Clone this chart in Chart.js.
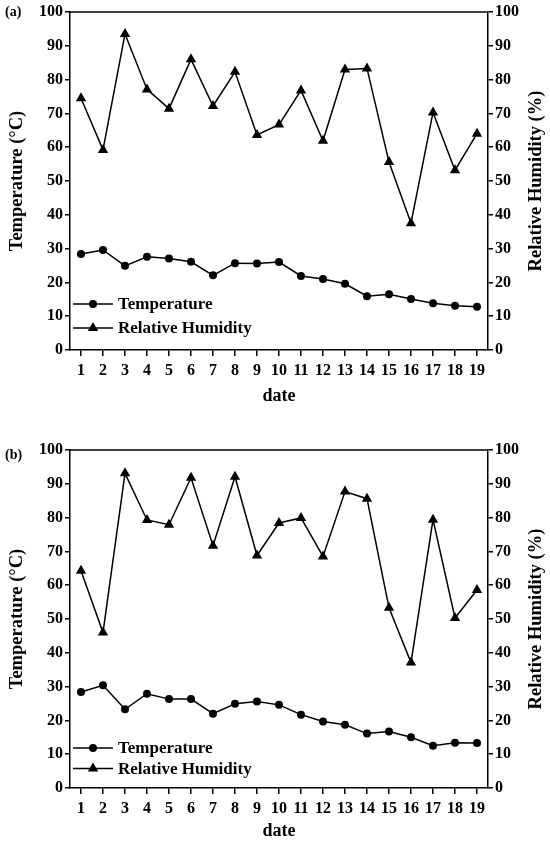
<!DOCTYPE html>
<html><head><meta charset="utf-8">
<script src="https://cdn.jsdelivr.net/npm/chart.js@4.4.1/dist/chart.umd.min.js"></script>
<style>html,body{margin:0;padding:0;background:#fff;}canvas{display:block;}</style>
</head><body>
<canvas id="ca" width="550" height="420"></canvas>
<canvas id="cb" width="550" height="421"></canvas>
<script>
const dates = ['1','2','3','4','5','6','7','8','9','10','11','12','13','14','15','16','17','18','19'];
const tempA = [28.4,29.6,24.9,27.6,27.1,26.1,22.1,25.7,25.6,26.0,21.9,21.0,19.6,15.9,16.5,15.1,13.8,13.1,12.8];
const humidA = [74.5,59.2,93.5,77.1,71.4,86.0,72.2,82.3,63.6,66.7,76.8,61.9,83.0,83.3,55.6,37.5,70.3,53.2,64.0];
const tempB = [28.4,30.4,23.3,27.9,26.3,26.3,22.0,24.9,25.6,24.6,21.7,19.7,18.7,16.1,16.7,15.0,12.5,13.4,13.3];
const humidB = [64.3,46.0,93.1,79.3,77.9,91.8,71.7,92.1,68.8,78.4,79.9,68.5,87.7,85.6,53.3,37.1,79.4,50.3,58.6];
const seriesNames = ['Temperature','Relative Humidity'];
const panelNames = ['(a)','(b)'];
const xTitle = 'date';
const leftTitle = 'Temperature (\u00B0C)';
const rightTitle = 'Relative Humidity (%)';

const FONT = "'Liberation Serif','Times New Roman',serif";

function drawMarker(ctx, style, x, y, r) {
  ctx.beginPath();
  if (style === 'circle') {
    ctx.arc(x, y, r, 0, Math.PI * 2);
  } else {
    ctx.moveTo(x, y - r);
    ctx.lineTo(x + r * Math.sqrt(3) / 2, y + r / 2);
    ctx.lineTo(x - r * Math.sqrt(3) / 2, y + r / 2);
    ctx.closePath();
  }
  ctx.fill();
}

const extras = {
  id: 'extras',
  afterDraw(chart, args, opts) {
    const ctx = chart.ctx;
    const a = chart.chartArea;
    ctx.save();
    ctx.strokeStyle = '#000';
    ctx.fillStyle = '#000';
    ctx.lineWidth = 1.5;
    ctx.beginPath();
    ctx.moveTo(a.left, a.top);
    ctx.lineTo(a.right, a.top);
    ctx.stroke();
    // right title, reading bottom-to-top
    ctx.save();
    ctx.translate(536, (a.top + a.bottom) / 2);
    ctx.rotate(-Math.PI / 2);
    ctx.font = 'bold 18.5px ' + FONT;
    ctx.textAlign = 'center';
    ctx.textBaseline = 'middle';
    ctx.fillText(rightTitle, 0, 0);
    ctx.restore();
    // panel label
    ctx.font = 'bold 14px ' + FONT;
    ctx.textAlign = 'left';
    ctx.textBaseline = 'middle';
    ctx.fillText(opts.panel, 5, opts.panelY);
    // legend
    chart.data.datasets.forEach((ds, i) => {
      const y = opts.legendY[i];
      ctx.lineWidth = 1.5;
      ctx.beginPath();
      ctx.moveTo(73, y);
      ctx.lineTo(113, y);
      ctx.stroke();
      drawMarker(ctx, ds.pointStyle, 93, y, ds.pointRadius);
      ctx.font = 'bold 17px ' + FONT;
      ctx.textAlign = 'left';
      ctx.textBaseline = 'middle';
      ctx.fillText(ds.label, 118, y + 1);
    });
    ctx.restore();
  }
};

function yAxis(pos, width, showTitle) {
  return {
    type: 'linear', position: pos, min: 0, max: 100,
    ticks: { stepSize: 10, color: '#000', font: { family: FONT, size: 16, weight: 'bold' }, padding: 2 },
    grid: { drawOnChartArea: false, drawTicks: true, tickLength: 5, color: '#000', lineWidth: 1.5 },
    border: { display: true, color: '#000', width: 1.5 },
    title: { display: showTitle, text: leftTitle, color: '#000', font: { family: FONT, size: 18.5, weight: 'bold', lineHeight: 1 }, padding: { top: 8, bottom: 0 } },
    afterFit: s => { s.width = width; }
  };
}

function makeChart(id, temp, hum, o) {
  return new Chart(document.getElementById(id), {
    type: 'line',
    data: {
      labels: dates,
      datasets: [
        { label: seriesNames[0], data: temp, yAxisID: 'y', borderColor: '#000', backgroundColor: '#000', borderWidth: 1.5, pointStyle: 'circle', pointRadius: 4, pointBorderWidth: 0, pointBackgroundColor: '#000', tension: 0 },
        { label: seriesNames[1], data: hum, yAxisID: 'y1', borderColor: '#000', backgroundColor: '#000', borderWidth: 1.5, pointStyle: 'triangle', pointRadius: 6, pointBorderWidth: 0, pointBackgroundColor: '#000', tension: 0 }
      ]
    },
    options: {
      responsive: false, animation: false, devicePixelRatio: 1,
      layout: { padding: { top: o.top, left: 0, right: 0, bottom: 0 } },
      plugins: { legend: { display: false }, tooltip: { enabled: false }, extras: { panel: o.panel, panelY: o.panelY, legendY: o.legendY } },
      scales: {
        x: {
          type: 'category', offset: true,
          ticks: { color: '#000', font: { family: FONT, size: 16, weight: 'bold' }, padding: 5, maxRotation: 0, autoSkip: false },
          grid: { drawOnChartArea: false, drawTicks: true, tickLength: 6, color: '#000', lineWidth: 1.5, offset: false },
          border: { display: true, color: '#000', width: 1.5 },
          title: { display: true, text: xTitle, color: '#000', font: { family: FONT, size: 18, weight: 'bold', lineHeight: 1 }, padding: { top: 0, bottom: o.xTitlePad } },
          afterFit: s => { s.height = o.xHeight; }
        },
        y: yAxis('left', 70, true),
        y1: yAxis('right', 62, false)
      }
    },
    plugins: [extras]
  });
}

makeChart('ca', tempA, humidA, { top: 12, xHeight: 70, xTitlePad: 15, panel: panelNames[0], panelY: 12, legendY: [304, 328] });
makeChart('cb', tempB, humidB, { top: 30, xHeight: 53, xTitlePad: 1, panel: panelNames[1], panelY: 35, legendY: [328, 348.5] });
</script>
</body></html>
